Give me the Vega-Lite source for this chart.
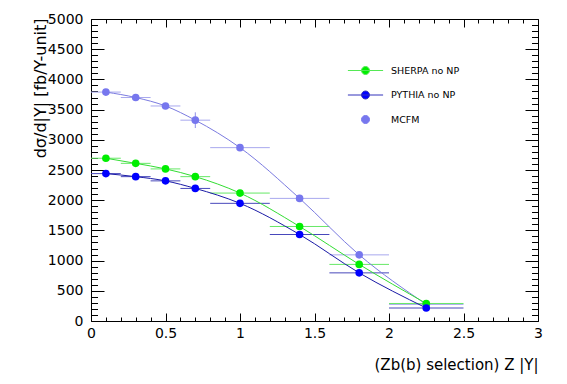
{
  "$schema": "https://vega.github.io/schema/vega-lite/v6.json",
  "width": 447,
  "height": 302,
  "autosize": {"type": "none"},
  "padding": {"left": 91, "top": 19, "right": 29, "bottom": 63},
  "background": "white",
  "config": {
    "view": {"stroke": null},
    "font": "DejaVu Sans",
    "axis": {
      "grid": false,
      "domainColor": "black",
      "domainWidth": 1,
      "tickColor": "black",
      "tickWidth": 1,
      "labelColor": "black",
      "titleColor": "black",
      "labelFont": "DejaVu Sans",
      "titleFont": "DejaVu Sans",
      "labelFontSize": 14,
      "titleFontSize": 15,
      "titleFontWeight": "normal",
      "labelOverlap": false,
      "labelFlush": false,
      "labelBound": false
    }
  },
  "data": {
    "values": [
      {"series": "MCFM", "x": 0.1, "xlo": 0.0, "xhi": 0.2, "y": 3790, "yerr": 25},
      {"series": "MCFM", "x": 0.3, "xlo": 0.2, "xhi": 0.4, "y": 3700, "yerr": 30},
      {"series": "MCFM", "x": 0.5, "xlo": 0.4, "xhi": 0.6, "y": 3560, "yerr": 40},
      {"series": "MCFM", "x": 0.7, "xlo": 0.6, "xhi": 0.8, "y": 3325, "yerr": 130},
      {"series": "MCFM", "x": 1.0, "xlo": 0.8, "xhi": 1.2, "y": 2870, "yerr": 50},
      {"series": "MCFM", "x": 1.4, "xlo": 1.2, "xhi": 1.6, "y": 2030, "yerr": 50},
      {"series": "MCFM", "x": 1.8, "xlo": 1.6, "xhi": 2.0, "y": 1095, "yerr": 40},
      {"series": "MCFM", "x": 2.25, "xlo": 2.0, "xhi": 2.5, "y": 275, "yerr": 20},
      {"series": "SHERPA no NP", "x": 0.1, "xlo": 0.0, "xhi": 0.2, "y": 2695, "yerr": 0},
      {"series": "SHERPA no NP", "x": 0.3, "xlo": 0.2, "xhi": 0.4, "y": 2610, "yerr": 0},
      {"series": "SHERPA no NP", "x": 0.5, "xlo": 0.4, "xhi": 0.6, "y": 2518, "yerr": 0},
      {"series": "SHERPA no NP", "x": 0.7, "xlo": 0.6, "xhi": 0.8, "y": 2390, "yerr": 0},
      {"series": "SHERPA no NP", "x": 1.0, "xlo": 0.8, "xhi": 1.2, "y": 2118, "yerr": 0},
      {"series": "SHERPA no NP", "x": 1.4, "xlo": 1.2, "xhi": 1.6, "y": 1565, "yerr": 0},
      {"series": "SHERPA no NP", "x": 1.8, "xlo": 1.6, "xhi": 2.0, "y": 937, "yerr": 0},
      {"series": "SHERPA no NP", "x": 2.25, "xlo": 2.0, "xhi": 2.5, "y": 290, "yerr": 0},
      {"series": "PYTHIA no NP", "x": 0.1, "xlo": 0.0, "xhi": 0.2, "y": 2440, "yerr": 0},
      {"series": "PYTHIA no NP", "x": 0.3, "xlo": 0.2, "xhi": 0.4, "y": 2390, "yerr": 0},
      {"series": "PYTHIA no NP", "x": 0.5, "xlo": 0.4, "xhi": 0.6, "y": 2320, "yerr": 0},
      {"series": "PYTHIA no NP", "x": 0.7, "xlo": 0.6, "xhi": 0.8, "y": 2195, "yerr": 0},
      {"series": "PYTHIA no NP", "x": 1.0, "xlo": 0.8, "xhi": 1.2, "y": 1948, "yerr": 0},
      {"series": "PYTHIA no NP", "x": 1.4, "xlo": 1.2, "xhi": 1.6, "y": 1432, "yerr": 0},
      {"series": "PYTHIA no NP", "x": 1.8, "xlo": 1.6, "xhi": 2.0, "y": 797, "yerr": 0},
      {"series": "PYTHIA no NP", "x": 2.25, "xlo": 2.0, "xhi": 2.5, "y": 215, "yerr": 0}
    ]
  },
  "layer": [
    {
      "mark": {"type": "rule", "strokeWidth": 1},
      "encoding": {
        "x": {
          "field": "xlo", "type": "quantitative",
          "scale": {"domain": [0, 3], "nice": false, "zero": false},
          "axis": {
            "orient": "bottom",
            "values": [0,0.1,0.2,0.3,0.4,0.5,0.6,0.7,0.8,0.9,1,1.1,1.2,1.3,1.4,1.5,1.6,1.7,1.8,1.9,2,2.1,2.2,2.3,2.4,2.5,2.6,2.7,2.8,2.9,3],
            "tickSize": {"condition": {"test": "abs(datum.value*2-round(datum.value*2))<0.001", "value": -8}, "value": -4},
            "labelExpr": "abs(datum.value*2-round(datum.value*2))<0.001 ? format(datum.value, '~g') : ''",
            "labelPadding": 13,
            "title": "(Zb(b) selection) Z |Y|",
            "titleX": 447, "titleY": 48, "titleAlign": "right", "titleAnchor": null, "titleBaseline": "alphabetic"
          }
        },
        "x2": {"field": "xhi"},
        "y": {
          "field": "y", "type": "quantitative",
          "scale": {"domain": [0, 5000], "nice": false, "zero": false},
          "axis": {
            "orient": "left",
            "values": [0,100,200,300,400,500,600,700,800,900,1000,1100,1200,1300,1400,1500,1600,1700,1800,1900,2000,2100,2200,2300,2400,2500,2600,2700,2800,2900,3000,3100,3200,3300,3400,3500,3600,3700,3800,3900,4000,4100,4200,4300,4400,4500,4600,4700,4800,4900,5000],
            "tickSize": {"condition": {"test": "datum.value % 500 == 0", "value": -13}, "value": -6.5},
            "labelExpr": "datum.value % 500 == 0 ? format(datum.value, 'd') : ''",
            "labelPadding": 21,
            "title": "dσ/d|Y| [fb/Y-unit]",
            "titleFontSize": 16,
            "titleX": -46, "titleY": -1, "titleAngle": 270, "titleAlign": "right", "titleAnchor": null, "titleBaseline": "alphabetic"
          }
        },
        "color": {
          "field": "series", "type": "nominal",
          "scale": {"domain": ["MCFM", "SHERPA no NP", "PYTHIA no NP"], "range": ["#a8a8ee", "#66e866", "#4848bb"]},
          "legend": null
        }
      }
    },
    {
      "transform": [{"filter": "datum.series == 'MCFM'"}],
      "mark": {"type": "errorbar", "color": "#8f8fe8"},
      "encoding": {
        "x": {"field": "x", "type": "quantitative", "axis": null},
        "y": {"field": "y", "type": "quantitative", "axis": null},
        "yError": {"field": "yerr"}
      }
    },
    {
      "mark": {"type": "line", "interpolate": "monotone", "strokeWidth": 1},
      "encoding": {
        "x": {
          "field": "x", "type": "quantitative",
          "axis": {
            "orient": "top",
            "values": [0,0.1,0.2,0.3,0.4,0.5,0.6,0.7,0.8,0.9,1,1.1,1.2,1.3,1.4,1.5,1.6,1.7,1.8,1.9,2,2.1,2.2,2.3,2.4,2.5,2.6,2.7,2.8,2.9,3],
            "tickSize": {"condition": {"test": "abs(datum.value*2-round(datum.value*2))<0.001", "value": -8}, "value": -4},
            "labels": false,
            "title": null
          }
        },
        "y": {
          "field": "y", "type": "quantitative",
          "axis": {
            "orient": "right",
            "values": [0,100,200,300,400,500,600,700,800,900,1000,1100,1200,1300,1400,1500,1600,1700,1800,1900,2000,2100,2200,2300,2400,2500,2600,2700,2800,2900,3000,3100,3200,3300,3400,3500,3600,3700,3800,3900,4000,4100,4200,4300,4400,4500,4600,4700,4800,4900,5000],
            "tickSize": {"condition": {"test": "datum.value % 500 == 0", "value": -13}, "value": -6.5},
            "labels": false,
            "title": null
          }
        },
        "color": {
          "field": "series", "type": "nominal",
          "scale": {"domain": ["MCFM", "SHERPA no NP", "PYTHIA no NP"], "range": ["#7b7be0", "#33dd33", "#1a1aa6"]},
          "legend": null
        }
      }
    },
    {
      "mark": {"type": "point", "filled": true, "size": 58, "opacity": 1},
      "encoding": {
        "x": {"field": "x", "type": "quantitative", "axis": null},
        "y": {"field": "y", "type": "quantitative", "axis": null},
        "color": {
          "field": "series", "type": "nominal",
          "scale": {"domain": ["MCFM", "SHERPA no NP", "PYTHIA no NP"], "range": ["#7777ee", "#00ee00", "#0000ff"]},
          "legend": null
        }
      }
    },
    {
      "transform": [{"filter": "false"}],
      "mark": {"type": "point", "filled": true, "strokeWidth": 1, "opacity": 1},
      "encoding": {
        "x": {"field": "x", "type": "quantitative", "axis": null},
        "y": {"field": "y", "type": "quantitative", "axis": null},
        "fill": {
          "field": "series", "type": "nominal",
          "scale": {"domain": ["SHERPA no NP", "PYTHIA no NP", "MCFM"], "range": ["#00ee00", "#0000ff", "#7777ee"]},
          "legend": {
            "orient": "none", "legendX": 266, "legendY": 43, "title": null, "padding": 0,
            "rowPadding": 9.5, "labelOffset": 17, "labelFont": "DejaVu Sans", "labelFontSize": 9.5,
            "labelColor": "black", "symbolSize": 256, "symbolStrokeWidth": 1, "symbolOpacity": 1, "labelLimit": 0
          }
        },
        "stroke": {
          "field": "series", "type": "nominal",
          "scale": {"domain": ["SHERPA no NP", "PYTHIA no NP", "MCFM"], "range": ["#55e855", "#3333bb", "#7777ee"]}
        },
        "shape": {
          "field": "series", "type": "nominal",
          "scale": {"domain": ["SHERPA no NP", "PYTHIA no NP", "MCFM"], "range": [
            "M-2.2,0L2.2,0M0.5,0A0.5,0.5,0,1,1,-0.5,0A0.5,0.5,0,1,1,0.5,0Z",
            "M-2.2,0L2.2,0M0.5,0A0.5,0.5,0,1,1,-0.5,0A0.5,0.5,0,1,1,0.5,0Z",
            "M0.5,0A0.5,0.5,0,1,1,-0.5,0A0.5,0.5,0,1,1,0.5,0Z"
          ]}
        }
      }
    }
  ],
  "resolve": {
    "scale": {"color": "independent"},
    "axis": {"x": "independent", "y": "independent"}
  }
}
